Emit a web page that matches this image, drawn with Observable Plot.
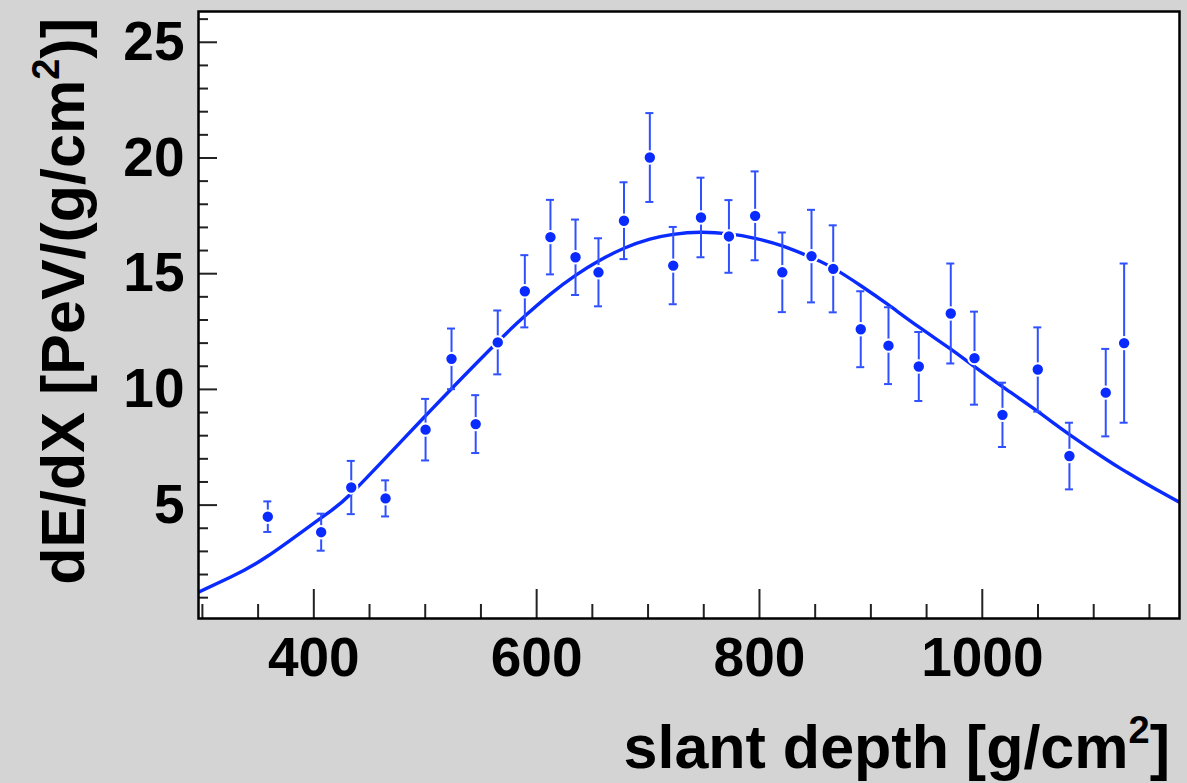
<!DOCTYPE html>
<html><head><meta charset="utf-8">
<script src="https://cdn.jsdelivr.net/npm/d3@7"></script>
<script src="https://cdn.jsdelivr.net/npm/@observablehq/plot@0.6"></script>
<style>html,body{margin:0;padding:0;background:#d4d4d4;overflow:hidden}</style>
</head><body><div id="chart"></div>
<script>
// measured points
const depth = [358.7,406.6,433.6,464.4,500.3,523.6,545.3,565.1,589.4,612.4,634.9,655.5,678.4,701.6,722.6,747.5,772.6,796.1,820.5,846.7,866.2,890.9,915.8,943.0,971.7,993.0,1018.1,1049.8,1078.2,1110.8,1127.3];
const dEdX  = [4.50,3.83,5.76,5.29,8.26,11.32,8.50,12.03,14.24,16.58,15.71,15.06,17.29,20.02,15.35,17.43,16.61,17.50,15.06,15.76,15.21,12.60,11.89,10.99,13.28,11.35,8.90,10.86,7.12,9.86,12.00];
const dEdXerr = [0.66,0.80,1.15,0.78,1.33,1.31,1.25,1.38,1.56,1.61,1.63,1.47,1.66,1.92,1.67,1.72,1.57,1.92,1.72,2.00,1.88,1.64,1.66,1.49,2.16,2.01,1.39,1.82,1.44,1.89,3.44];
// fitted profile
const fitDepth = [296.5,325,358.7,406.6,433.6,477.8,500.3,523.6,565.1,589.4,612.4,634.9,656,678.5,701.6,722.6,747,772.6,796,820.5,846.7,866.2,891,915.5,943,971.7,993,1018,1050,1078,1111,1127,1148,1177];
const fitdEdX  = [1.24,1.88,2.80,4.45,5.50,7.72,8.86,10.03,12.06,13.17,14.12,14.93,15.56,16.10,16.49,16.70,16.79,16.72,16.53,16.20,15.70,15.24,14.48,13.66,12.70,11.74,10.98,10.12,9.04,8.06,6.98,6.50,5.90,5.12];
// axes
const xLabelTicks = [400,600,800,1000];
const xMinorTicks = [300,350,450,500,550,650,700,750,850,900,950,1050,1100,1150];
const yLabelTicks = [5,10,15,20,25];
const yMinorTicks = [1,2,3,4,6,7,8,9,11,12,13,14,16,17,18,19,21,22,23,24,26];
const xTitle = "slant depth [g/cm";
const yTitle = "dE/dX [PeV/(g/cm";

const points = depth.map((x,i)=>({x, y:dEdX[i], e:dEdXerr[i]}));
const fit = fitDepth.map((x,i)=>({x, y:fitdEdX[i]}));

const W=1187,H=783,ML=198,MT=11,MR=8,MB=165;
const PW=W-ML-MR, PH=H-MT-MB;
const blue="#0a2bff", ebar="#2f50ff";
const font='"Liberation Sans", Arial, Helvetica, sans-serif';

const svg = Plot.plot({
  width:W, height:H, marginLeft:ML, marginTop:MT, marginRight:MR, marginBottom:MB,
  style:{background:"#d4d4d4", fontFamily:font, overflow:"visible"},
  x:{domain:[296.5,1177]},
  y:{domain:[0.1,26.33]},
  marks:[
    Plot.frame({fill:"white"}),
    Plot.ruleX(xMinorTicks,{x:d=>d, stroke:"#222", strokeWidth:2, insetTop:PH-14}),
    Plot.ruleX(xLabelTicks,{x:d=>d, stroke:"#222", strokeWidth:2, insetTop:PH-29}),
    Plot.ruleY(yMinorTicks,{y:d=>d, stroke:"#222", strokeWidth:2, insetRight:PW-10}),
    Plot.ruleY(yLabelTicks,{y:d=>d, stroke:"#222", strokeWidth:2, insetRight:PW-19}),
    Plot.line(fit,{x:"x", y:"y", stroke:blue, strokeWidth:3.4, curve:"natural", clip:true}),
    Plot.ruleX(points,{x:"x", y1:d=>d.y-d.e, y2:d=>d.y+d.e, stroke:ebar, strokeWidth:2}),
    Plot.ruleY(points,{y:d=>d.y+d.e, x1:d=>d.x-3.6, x2:d=>d.x+3.6, stroke:ebar, strokeWidth:2}),
    Plot.ruleY(points,{y:d=>d.y-d.e, x1:d=>d.x-3.6, x2:d=>d.x+3.6, stroke:ebar, strokeWidth:2}),
    Plot.dot(points,{x:"x", y:"y", r:6.2, fill:blue, stroke:"white", strokeWidth:2}),
    Plot.axisX(xLabelTicks,{tickSize:0, tickPadding:18, fontSize:55, fontWeight:"bold", fill:"black", tickFormat:d=>String(d), label:null}),
    Plot.axisY(yLabelTicks,{tickSize:0, tickPadding:14, fontSize:55, fontWeight:"bold", fill:"black", tickFormat:d=>String(d), label:null}),
    Plot.frame({stroke:"black", strokeWidth:2.5})
  ]
});

const s = d3.select(svg);
const xt = s.append("text").attr("x",1170).attr("y",768).attr("text-anchor","end")
  .attr("font-size",61).attr("font-weight","bold").attr("font-family",font).attr("fill","black");
xt.append("tspan").text(xTitle);
xt.append("tspan").attr("font-size",38).attr("dy",-25).text("2");
xt.append("tspan").attr("dy",25).text("]");

const yt = s.append("text").attr("transform","translate(84,18) rotate(-90)").attr("text-anchor","end")
  .attr("font-size",61).attr("font-weight","bold").attr("font-family",font).attr("fill","black");
yt.append("tspan").text(yTitle);
yt.append("tspan").attr("font-size",38).attr("dy",-25).text("2");
yt.append("tspan").attr("dy",25).text(")]");

document.getElementById("chart").appendChild(svg);
</script></body></html>
